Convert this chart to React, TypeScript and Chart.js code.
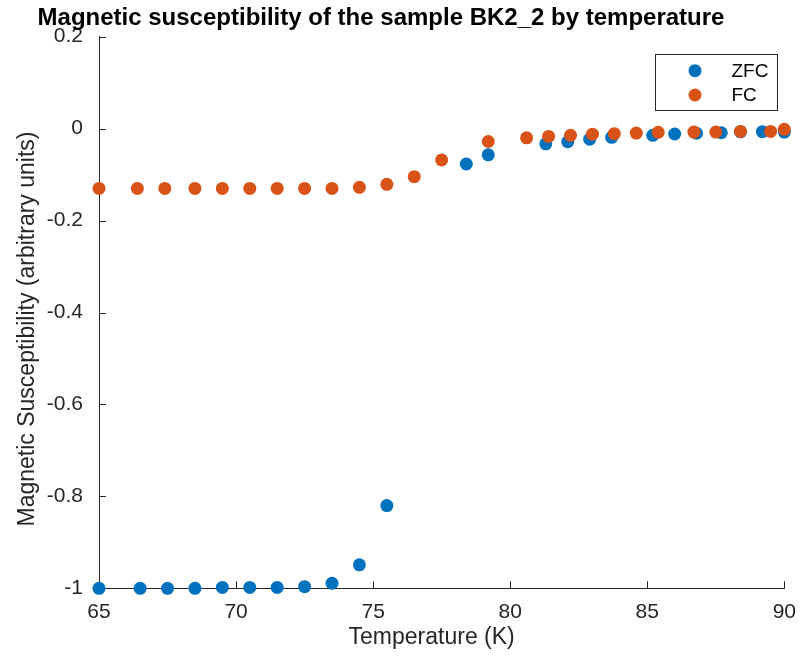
import React, { useEffect, useRef } from "react";
import { Chart, registerables } from "chart.js";

Chart.register(...registerables);

const titleText = "Magnetic susceptibility of the sample BK2_2 by temperature";
const xAxisTitle = "Temperature (K)";
const yAxisTitle = "Magnetic Susceptibility (arbitrary units)";
const seriesNames = ["ZFC", "FC"];

const xTickValues = [65, 70, 75, 80, 85, 90];
const yTickValues = [-1, -0.8, -0.6, -0.4, -0.2, 0, 0.2];
const yTickLabels = ["-1", "-0.8", "-0.6", "-0.4", "-0.2", "0", "0.2"];

const zfcTemp = [65.0, 66.5, 67.5, 68.5, 69.5, 70.5, 71.5, 72.5, 73.5, 74.5, 75.5, 78.4, 79.2, 81.3, 82.1, 82.9, 83.7, 85.2, 86.0, 86.8, 87.7, 88.4, 89.2, 90.0];
const zfcChi = [-1.0, -1.0, -1.0, -1.0, -0.998, -0.998, -0.998, -0.9965, -0.989, -0.949, -0.82, -0.077, -0.057, -0.033, -0.0285, -0.023, -0.019, -0.0146, -0.0117, -0.01, -0.009, -0.007, -0.0067, -0.0074];

const fcTemp = [65.0, 66.4, 67.4, 68.5, 69.5, 70.5, 71.5, 72.5, 73.5, 74.5, 75.5, 76.5, 77.5, 79.2, 80.6, 81.4, 82.2, 83.0, 83.8, 84.6, 85.4, 86.7, 87.5, 88.4, 89.5, 90.0];
const fcChi = [-0.13, -0.13, -0.13, -0.13, -0.13, -0.13, -0.13, -0.13, -0.13, -0.1277, -0.1212, -0.1046, -0.068, -0.028, -0.02, -0.017, -0.0146, -0.012, -0.011, -0.0096, -0.008, -0.0074, -0.0074, -0.006, -0.006, -0.0015];

const BLUE = "#0072BD";
const ORANGE = "#D95319";
const AXIS = "#262626";
const FONT = "'Liberation Sans', Arial, Helvetica, sans-serif";

export default function App() {
  const ref = useRef<HTMLCanvasElement | null>(null);

  useEffect(() => {
    const canvas = ref.current;
    if (!canvas) return;

    const decorPlugin = {
      id: "decor",
      beforeDatasetsDraw(chart: any) {
        const ctx = chart.ctx;
        const xs = chart.scales.x;
        const ys = chart.scales.y;
        const a = chart.chartArea;
        ctx.save();
        ctx.strokeStyle = AXIS;
        ctx.lineWidth = 1;
        ctx.beginPath();
        for (const v of xTickValues) {
          const px = Math.round(xs.getPixelForValue(v)) + 0.5;
          ctx.moveTo(px, a.bottom);
          ctx.lineTo(px, a.bottom - 7);
        }
        for (const v of yTickValues) {
          const py = Math.round(ys.getPixelForValue(v)) + 0.5;
          ctx.moveTo(a.left, py);
          ctx.lineTo(a.left + 7, py);
        }
        ctx.stroke();
        ctx.restore();
      },
      afterDraw(chart: any) {
        const ctx = chart.ctx;
        const a = chart.chartArea;
        ctx.save();
        // title
        ctx.fillStyle = "#000";
        ctx.font = `bold 24px ${FONT}`;
        ctx.textAlign = "center";
        ctx.textBaseline = "middle";
        ctx.fillText(titleText, 381, 18);
        // axis titles
        ctx.fillStyle = AXIS;
        ctx.font = `23px ${FONT}`;
        ctx.fillText(xAxisTitle, (a.left + a.right) / 2 - 10, 638);
        ctx.save();
        ctx.translate(28, 329);
        ctx.rotate(-Math.PI / 2);
        ctx.fillText(yAxisTitle, 0, 0);
        ctx.restore();
        // legend
        const bx = 655.5, by = 54.5, bw = 122, bh = 56;
        ctx.fillStyle = "#fff";
        ctx.fillRect(bx, by, bw, bh);
        ctx.strokeStyle = AXIS;
        ctx.lineWidth = 1;
        ctx.strokeRect(bx, by, bw, bh);
        const colors = [BLUE, ORANGE];
        const rows = [70.7, 95];
        ctx.font = `19px ${FONT}`;
        ctx.textAlign = "left";
        ctx.textBaseline = "middle";
        seriesNames.forEach((name, i) => {
          ctx.fillStyle = colors[i];
          ctx.beginPath();
          ctx.arc(695, rows[i], 6.5, 0, Math.PI * 2);
          ctx.fill();
          ctx.fillStyle = "#000";
          ctx.fillText(name, 731.5, rows[i] + 1);
        });
        ctx.restore();
      },
    };

    const chart = new Chart(canvas, {
      type: "scatter",
      data: {
        datasets: [
          {
            label: seriesNames[0],
            data: zfcTemp.map((t, i) => ({ x: t, y: zfcChi[i] })),
            backgroundColor: BLUE,
            borderColor: BLUE,
            borderWidth: 0,
            pointRadius: 6.5,
            pointHoverRadius: 6.5,
            clip: false,
            order: 1,
          },
          {
            label: seriesNames[1],
            data: fcTemp.map((t, i) => ({ x: t, y: fcChi[i] })),
            backgroundColor: ORANGE,
            borderColor: ORANGE,
            borderWidth: 0,
            pointRadius: 6.5,
            pointHoverRadius: 6.5,
            clip: false,
            order: 0,
          },
        ],
      },
      options: {
        responsive: false,
        animation: false,
        events: [],
        layout: { padding: { top: 36.7, right: 12, left: 0, bottom: 0 } },
        plugins: {
          legend: { display: false },
          title: { display: false },
          tooltip: { enabled: false },
        },
        scales: {
          x: {
            type: "linear",
            min: 65,
            max: 90,
            afterBuildTicks: (s: any) => {
              s.ticks = xTickValues.map((v) => ({ value: v }));
            },
            afterFit: (s: any) => {
              s.height = 67.7;
            },
            grid: { display: false, drawTicks: false },
            border: { display: true, color: AXIS, width: 1 },
            ticks: {
              color: AXIS,
              font: { family: FONT, size: 21 },
              padding: 11,
              maxRotation: 0,
              callback: (v: any) => String(v),
            },
          },
          y: {
            type: "linear",
            min: -1,
            max: 0.2,
            afterBuildTicks: (s: any) => {
              s.ticks = yTickValues.map((v) => ({ value: v }));
            },
            afterFit: (s: any) => {
              s.width = 99;
            },
            grid: { display: false, drawTicks: false },
            border: { display: true, color: AXIS, width: 1 },
            ticks: {
              color: AXIS,
              font: { family: FONT, size: 21 },
              padding: 16,
              callback: (v: any) => {
                const idx = yTickValues.findIndex((t) => Math.abs(t - v) < 1e-9);
                return idx >= 0 ? yTickLabels[idx] : "";
              },
            },
          },
        },
      },
      plugins: [decorPlugin],
    });

    return () => chart.destroy();
  }, []);

  return (
    <div style={{ position: "fixed", left: 0, top: 0, width: 807, height: 656, background: "#fff" }}>
      <canvas ref={ref} width={807} height={656} style={{ width: 807, height: 656, display: "block" }} />
    </div>
  );
}
